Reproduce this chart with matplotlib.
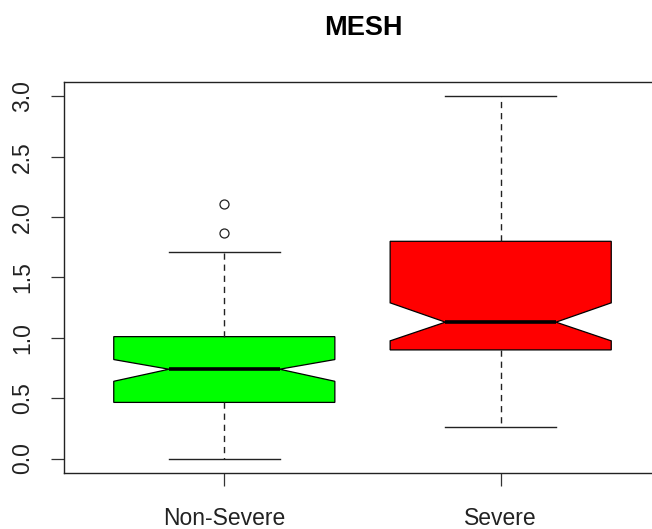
import matplotlib
matplotlib.use("Agg")
import matplotlib.pyplot as plt

plt.rcParams['font.family'] = ['Liberation Sans', 'DejaVu Sans']

title = "MESH"
categories = ["Non-Severe", "Severe"]
colors = ["#00FF00", "#FF0000"]
whislo = [0.0, 0.26]
q1 = [0.465, 0.90]
med = [0.74, 1.13]
q3 = [1.01, 1.80]
whishi = [1.71, 3.0]
cilo = [0.64, 0.975]
cihi = [0.82, 1.29]
fliers = [[1.87, 2.11], []]
yticks = [0.0, 0.5, 1.0, 1.5, 2.0, 2.5, 3.0]

W, H = 652, 529
fig = plt.figure(figsize=(W / 100, H / 100), dpi=100)
left, right, top, bottom = 64, 661, 82, 473
ax = fig.add_axes([left / W, 1 - bottom / H, (right - left) / W, (bottom - top) / H])

stats = []
for i, name in enumerate(categories):
    stats.append(dict(label=name, whislo=whislo[i], q1=q1[i], med=med[i], q3=q3[i],
                      whishi=whishi[i], cilo=cilo[i], cihi=cihi[i], fliers=fliers[i]))

bp = ax.bxp(stats, positions=[1, 2], widths=0.8, shownotches=True, patch_artist=True,
            boxprops=dict(edgecolor="black", linewidth=0.9),
            whiskerprops=dict(color="#222222", linewidth=1.0, linestyle=(0, (4.5, 3.5))),
            capprops=dict(color="#222222", linewidth=1.0),
            medianprops=dict(color="black", linewidth=2.6, solid_capstyle="butt"),
            flierprops=dict(marker="o", markerfacecolor="none", markeredgecolor="#222222",
                            markersize=6.5, markeredgewidth=0.9))
for patch, c in zip(bp["boxes"], colors):
    patch.set_facecolor(c)

ax.set_xlim(0.42, 2.58)
ax.set_ylim(-0.12, 3.12)
ax.set_yticks(yticks)
ax.set_yticklabels([f"{v:.1f}" for v in yticks], rotation=90, va="center")
ax.set_xticks([1, 2])
ax.set_xticklabels(categories)
ax.tick_params(axis="both", direction="out", length=9.5, width=0.9, labelsize=16.5,
               colors="#333333", labelcolor="#222222")
ax.tick_params(axis="y", pad=12)
ax.tick_params(axis="x", pad=15)
for s in ax.spines.values():
    s.set_linewidth(1.0)
    s.set_color("#222222")

fig.text(363 / W, 1 - 35 / H, title, ha="center", va="baseline", fontsize=19.5,
         fontweight="bold", color="black")

fig.savefig("out.png", dpi=100)
